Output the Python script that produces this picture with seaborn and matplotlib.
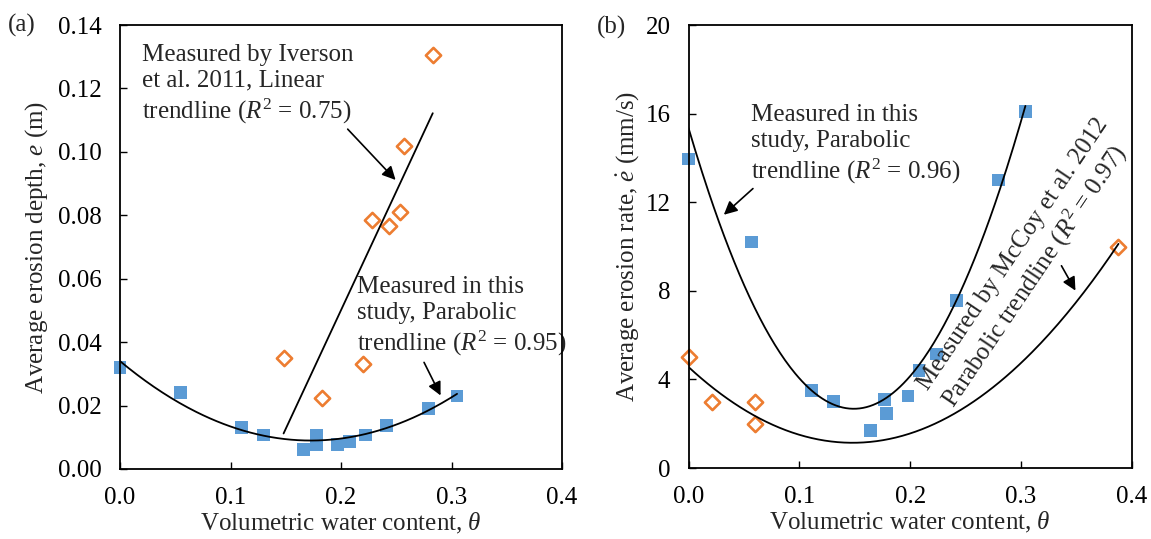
import numpy as np
import matplotlib
matplotlib.use("Agg")
import matplotlib.pyplot as plt
import seaborn as sns

# ---- data: panel (a) erosion depth ----
theta_a_study = [0.0, 0.055, 0.110, 0.130, 0.166, 0.178, 0.178, 0.197, 0.208, 0.222, 0.241, 0.279, 0.305]
depth_study = [0.032, 0.024, 0.013, 0.0107, 0.0062, 0.0107, 0.0076, 0.0076, 0.0086, 0.0107, 0.0136, 0.019, 0.023]
theta_iverson = [0.148, 0.183, 0.220, 0.228, 0.243, 0.253, 0.257, 0.283]
depth_iverson = [0.035, 0.0225, 0.033, 0.0785, 0.0765, 0.081, 0.102, 0.1305]

# ---- data: panel (b) erosion rate ----
theta_b_study = [0.0, 0.057, 0.111, 0.131, 0.164, 0.177, 0.179, 0.198, 0.208, 0.224, 0.242, 0.280, 0.304]
rate_study = [13.95, 10.2, 3.5, 3.0, 1.7, 3.1, 2.45, 3.25, 4.4, 5.15, 7.55, 13.0, 16.1]
theta_mccoy = [0.0, 0.021, 0.060, 0.060, 0.388]
rate_mccoy = [5.0, 3.0, 3.0, 2.0, 10.0]

# trendline coefficients (highest power first) and their theta ranges
trend_a_study = [0.84, -0.29, 0.034]
trend_a_iverson = [0.748, -0.0995]
trend_b_study = [570.0, -170.0, 15.35]
trend_b_mccoy = [156.0, -46.2, 4.56]
range_a_study = [0.0, 0.305]
range_a_iverson = [0.148, 0.283]
range_b_study = [0.0, 0.304]
range_b_mccoy = [0.0, 0.388]

x_ticks = [0.0, 0.1, 0.2, 0.3, 0.4]
y_ticks_a = [0.00, 0.02, 0.04, 0.06, 0.08, 0.10, 0.12, 0.14]
y_ticks_b = [0, 4, 8, 12, 16, 20]

BLUE = "#5B9BD5"
ORANGE = "#ED7D31"
FS = 18
LS = 1.25

sns.set_style("ticks")
plt.rcParams["font.family"] = ["Liberation Serif", "DejaVu Serif"]
plt.rcParams["mathtext.fontset"] = "custom"
plt.rcParams["mathtext.rm"] = "Liberation Serif"
plt.rcParams["mathtext.it"] = "Liberation Serif:italic"
plt.rcParams["mathtext.bf"] = "Liberation Serif:bold"

fig = plt.figure(figsize=(11.51, 5.39), dpi=100)
ax_a = fig.add_axes([0.1043, 0.1299, 0.3840, 0.8237])
ax_b = fig.add_axes([0.5982, 0.1317, 0.3851, 0.8219])


def trend(ax, coeffs, span):
    xs = np.linspace(span[0], span[1], 200)
    sns.lineplot(x=xs, y=np.polyval(coeffs, xs), ax=ax, color="black",
                 lw=1.3, zorder=4, sort=False)


def study_points(ax, x, y):
    sns.scatterplot(x=x, y=y, ax=ax, marker="s", s=85, color=BLUE,
                    edgecolor="none", zorder=3, legend=False, clip_on=False)


def other_points(ax, x, y):
    sns.scatterplot(x=x, y=y, ax=ax, marker="D", s=60, color="white",
                    edgecolor=ORANGE, linewidth=1.9, zorder=3, legend=False,
                    clip_on=False)


def style_axes(ax, yticks, ylim, yfmt, ypad):
    ax.set_xlim(0, 0.4)
    ax.set_ylim(*ylim)
    ax.set_xticks(x_ticks)
    ax.set_xticklabels([f"{v:.1f}" for v in x_ticks])
    ax.set_yticks(yticks)
    ax.set_yticklabels([yfmt.format(v) for v in yticks])
    ax.tick_params(axis="both", direction="in", length=5, width=1,
                   labelsize=FS, colors="black")
    ax.tick_params(axis="x", pad=13)
    ax.tick_params(axis="y", pad=ypad)
    for sp in ax.spines.values():
        sp.set_visible(True)
        sp.set_linewidth(1.3)
        sp.set_color("black")
        sp.set_zorder(5)
    ax.set_xlabel(r"Volumetric water content, $\theta$", fontsize=FS, labelpad=1)


arrow_kw = dict(arrowstyle="-|>", color="black", lw=1.2, mutation_scale=20)

# ---- panel (a) ----
study_points(ax_a, theta_a_study, depth_study)
other_points(ax_a, theta_iverson, depth_iverson)
trend(ax_a, trend_a_study, range_a_study)
trend(ax_a, trend_a_iverson, range_a_iverson)
style_axes(ax_a, y_ticks_a, (0, 0.14), "{:.2f}", 13)
ax_a.set_ylabel(r"Average erosion depth, $e$ (m)", fontsize=FS, labelpad=6)

ax_a.text(0.020, 0.1211, "Measured by Iverson\net al. 2011, Linear\ntrendline ($R^2$ = 0.75)",
          fontsize=FS, ha="left", va="center", linespacing=LS)
ax_a.annotate("", xy=(0.2511, 0.0905), xytext=(0.2043, 0.1078), arrowprops=arrow_kw)
ax_a.text(0.2143, 0.0479, "Measured in this\nstudy, Parabolic\ntrendline ($R^2$ = 0.95)",
          fontsize=FS, ha="left", va="center", linespacing=LS)
ax_a.annotate("", xy=(0.2912, 0.0224), xytext=(0.274, 0.0344), arrowprops=arrow_kw)

# ---- panel (b) ----
study_points(ax_b, theta_b_study, rate_study)
other_points(ax_b, theta_mccoy, rate_mccoy)
trend(ax_b, trend_b_study, range_b_study)
trend(ax_b, trend_b_mccoy, range_b_mccoy)
style_axes(ax_b, y_ticks_b, (0, 20), "{:d}", 13)
ax_b.set_ylabel(r"Average erosion rate, $\dot{e}$ (mm/s)", fontsize=FS, labelpad=3)

ax_b.text(0.0566, 14.58, "Measured in this\nstudy, Parabolic\ntrendline ($R^2$ = 0.96)",
          fontsize=FS, ha="left", va="center", linespacing=LS)
ax_b.annotate("", xy=(0.030, 11.35), xytext=(0.060, 12.70), arrowprops=arrow_kw)
ax_b.text(0.3055, 9.23, "Measured by McCoy et al. 2012\nParabolic trendline ($R^2$ = 0.97)",
          fontsize=FS, ha="center", va="center", rotation=56, rotation_mode="anchor",
          multialignment="left", linespacing=LS)
ax_b.annotate("", xy=(0.3504, 7.90), xytext=(0.3353, 9.24), arrowprops=arrow_kw)

# panel tags
fig.text(8 / 1151, 1 - 25 / 539, "(a)", fontsize=FS, ha="left", va="center")
fig.text(597 / 1151, 1 - 27 / 539, "(b)", fontsize=FS, ha="left", va="center")

fig.savefig("out.png", dpi=100, facecolor="white")
